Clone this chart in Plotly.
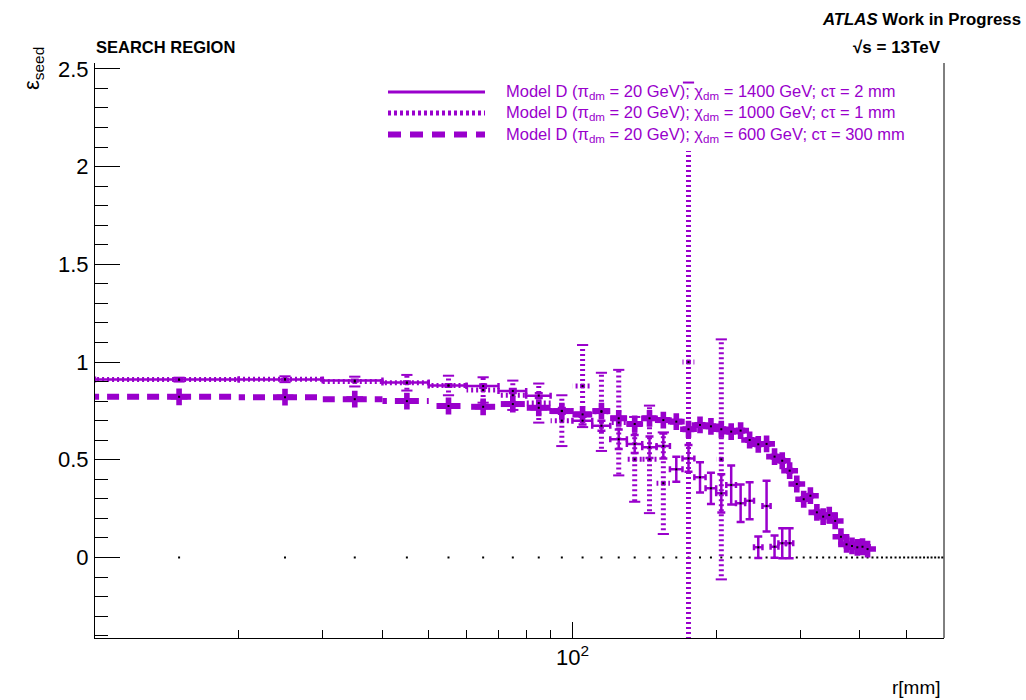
import plotly.graph_objects as go

PURPLE = "#9900cc"
FONT = "Liberation Sans, Arial, Helvetica, sans-serif"

# ---------------- data ----------------
BIN_HALF = 5  # half bin width in mm (10 mm bins)

all_bins = [15, 25, 35, 45, 55, 65, 75, 85, 95, 105, 115, 125, 135, 145, 155, 165, 175, 185, 195,
            205, 215, 225, 235, 245, 255, 265, 275, 285, 295, 305, 315, 325, 335, 345, 355, 365,
            375, 385, 395, 405, 415, 425, 435, 445, 455, 465, 475, 485, 495, 505, 515, 525, 535,
            545, 555, 565, 575, 585, 595]
empty_vals = [0.0] * len(all_bins)

# Model D, chi 600 GeV, ctau 300 mm (thick dashed)
r_T = [15, 25, 35, 45, 55, 65, 75, 85, 95, 105, 115, 125, 135, 145, 155, 165, 175, 185, 195, 205,
       215, 225, 235, 245, 255, 265, 275, 285, 295, 305, 315, 325, 335, 345, 355, 365, 375, 385,
       395, 405, 415]
eff_T = [0.822, 0.820, 0.810, 0.800, 0.775, 0.771, 0.785, 0.766, 0.749, 0.732, 0.749, 0.712, 0.683,
         0.712, 0.703, 0.695, 0.656, 0.678, 0.671, 0.656, 0.644, 0.649, 0.601, 0.579, 0.581, 0.516,
         0.495, 0.444, 0.376, 0.298, 0.316, 0.231, 0.209, 0.217, 0.187, 0.106, 0.067, 0.059, 0.052,
         0.055, 0.043]
err_T = [0.004, 0.004, 0.005, 0.005, 0.006, 0.006, 0.007, 0.007, 0.008, 0.008, 0.009, 0.009, 0.010,
         0.010, 0.010, 0.011, 0.011, 0.012, 0.012, 0.012, 0.013, 0.013, 0.013, 0.013, 0.013, 0.013,
         0.013, 0.013, 0.013, 0.013, 0.012, 0.012, 0.011, 0.011, 0.011, 0.009, 0.007, 0.006, 0.006,
         0.006, 0.006]

# Model D, chi 1400 GeV, ctau 2 mm (solid)
r_S = [15, 25, 35, 45, 55, 65, 75, 85, 95, 105, 115, 125, 135, 145, 155, 165, 175, 185, 195, 205,
       215, 225, 235, 245, 255, 265, 275, 285]
eff_S = [0.910, 0.910, 0.905, 0.895, 0.880, 0.877, 0.852, 0.828, 0.750, 0.700, 0.674, 0.605, 0.581,
         0.564, 0.570, 0.451, 0.507, 0.410, 0.354, 0.328, 0.371, 0.277, 0.290, 0.052, 0.263, 0.055,
         0.073, 0.073]
err_S = [0.003, 0.003, 0.004, 0.005, 0.006, 0.008, 0.010, 0.012, 0.015, 0.020, 0.026, 0.050, 0.046,
         0.055, 0.064, 0.064, 0.068, 0.077, 0.080, 0.098, 0.100, 0.096, 0.095, 0.055, 0.130, 0.057,
         0.077, 0.077]

# Model D, chi 1000 GeV, ctau 1 mm (dotted)
r_D = [15, 25, 35, 45, 55, 65, 75, 85, 95, 105, 115, 125, 135, 145, 155, 175, 205]
eff_D = [0.910, 0.912, 0.900, 0.894, 0.880, 0.857, 0.830, 0.790, 0.700, 0.877, 0.745, 0.690, 0.502,
         0.502, 0.380, 1.000, 0.502]
err_D = [0.010, 0.015, 0.025, 0.040, 0.050, 0.065, 0.075, 0.100, 0.130, 0.210, 0.200, 0.270, 0.217,
         0.275, 0.260, 1.430, 0.614]

legend_labels = [
    "Model D (π<sub>dm</sub> = 20 GeV); χ<sub>dm</sub> = 1400 GeV; cτ = 2 mm",
    "Model D (π<sub>dm</sub> = 20 GeV); χ<sub>dm</sub> = 1000 GeV; cτ = 1 mm",
    "Model D (π<sub>dm</sub> = 20 GeV); χ<sub>dm</sub> = 600 GeV; cτ = 300 mm",
]

x_minor = [20, 30, 40, 50, 60, 70, 80, 90, 200, 300, 400, 500]

DOT = "2px,3px"
DASH = "12px,8px"


# ---------------- helpers (error bars drawn from the centre outward, like ROOT) ----------------
def hbars(r, y):
    xs, ys = [], []
    for ri, yi in zip(r, y):
        xs += [ri, ri - BIN_HALF, None, ri, ri + BIN_HALF, None]
        ys += [yi, yi, None, yi, yi, None]
    return xs, ys


def vbars(r, y, e):
    xs, ys = [], []
    for ri, yi, ei in zip(r, y, e):
        xs += [ri, ri, None, ri, ri, None]
        ys += [yi, yi + ei, None, yi, yi - ei, None]
    return xs, ys


fig = go.Figure()

# empty bins (black dots at zero)
fig.add_trace(go.Scatter(x=all_bins, y=empty_vals, mode="markers",
                         marker=dict(symbol="square", size=2, color="black"),
                         showlegend=False, hoverinfo="skip"))

# thick dashed series
hx, hy = hbars(r_T, eff_T)
fig.add_trace(go.Scatter(x=hx, y=hy, mode="lines",
                         line=dict(color=PURPLE, width=6, dash=DASH),
                         showlegend=False, hoverinfo="skip"))
vx, vy = vbars(r_T, eff_T, err_T)
fig.add_trace(go.Scatter(x=vx, y=vy, mode="lines",
                         line=dict(color=PURPLE, width=6),
                         showlegend=False, hoverinfo="skip"))
fig.add_trace(go.Scatter(x=r_T, y=eff_T, mode="markers",
                         marker=dict(symbol="cross", size=14, color=PURPLE, line=dict(width=0)),
                         showlegend=False, hoverinfo="skip"))

# dotted series
hx, hy = hbars(r_D, eff_D)
fig.add_trace(go.Scatter(x=hx, y=hy, mode="lines",
                         line=dict(color=PURPLE, width=5, dash=DOT),
                         showlegend=False, hoverinfo="skip"))
vx, vy = vbars(r_D, eff_D, err_D)
fig.add_trace(go.Scatter(x=vx, y=vy, mode="lines",
                         line=dict(color=PURPLE, width=5, dash=DOT),
                         showlegend=False, hoverinfo="skip"))
cap_x = r_D + r_D
cap_y = [v + e for v, e in zip(eff_D, err_D)] + [v - e for v, e in zip(eff_D, err_D)]
fig.add_trace(go.Scatter(x=cap_x, y=cap_y, mode="markers",
                         marker=dict(symbol="line-ew", size=8, color=PURPLE,
                                     line=dict(color=PURPLE, width=2)),
                         showlegend=False, hoverinfo="skip"))

# solid series
fig.add_trace(go.Scatter(x=r_S, y=eff_S, mode="markers",
                         marker=dict(symbol="square", size=2, color="black"),
                         error_x=dict(type="constant", value=BIN_HALF, color=PURPLE, thickness=2.5, width=3),
                         error_y=dict(type="data", array=err_S, color=PURPLE, thickness=2.5, width=4),
                         showlegend=False, hoverinfo="skip"))

# black centre dots of the other two series
fig.add_trace(go.Scatter(x=r_T + r_D, y=eff_T + eff_D, mode="markers",
                         marker=dict(symbol="square", size=2, color="black"),
                         showlegend=False, hoverinfo="skip"))

# ---------------- layout ----------------
L, R, T, B = 95, 944, 63, 638
W, H = 1026, 700


def px(xp):
    return (xp - L) / (R - L)


def py(yp):
    return (B - yp) / (B - T)


shapes = [
    # right frame line
    dict(type="line", xref="paper", yref="paper", x0=1, x1=1, y0=0, y1=1,
         line=dict(color="black", width=1), layer="above"),
    # legend box (white)
    dict(type="rect", xref="paper", yref="paper", x0=px(382), x1=px(915), y0=py(151), y1=py(84),
         fillcolor="white", line=dict(width=0), layer="above"),
    dict(type="line", xref="paper", yref="paper", x0=px(388), x1=px(485), y0=py(92), y1=py(92),
         line=dict(color=PURPLE, width=3), layer="above"),
    dict(type="line", xref="paper", yref="paper", x0=px(388), x1=px(485), y0=py(113), y1=py(113),
         line=dict(color=PURPLE, width=5, dash="3px,3px"), layer="above"),
    dict(type="line", xref="paper", yref="paper", x0=px(388), x1=px(485), y0=py(134.5), y1=py(134.5),
         line=dict(color=PURPLE, width=6, dash="13px,9px"), layer="above"),
]

annotations = []
for lab, yy in zip(legend_labels, [92, 113, 134.5]):
    annotations.append(dict(text=lab, xref="paper", yref="paper", x=px(504), y=py(yy),
                            xanchor="left", yanchor="middle", showarrow=False,
                            font=dict(family=FONT, size=16.5, color=PURPLE)))

annotations += [
    dict(text="<b>SEARCH REGION</b>", xref="paper", yref="paper", x=px(94), y=py(47),
         xanchor="left", yanchor="middle", showarrow=False, font=dict(family=FONT, size=16.5, color="black")),
    dict(text="<b><i>ATLAS</i> Work in Progress</b>", xref="paper", yref="paper", x=px(1023), y=py(19),
         xanchor="right", yanchor="middle", showarrow=False, font=dict(family=FONT, size=16.8, color="black")),
    dict(text="<b>√s = 13TeV</b>", xref="paper", yref="paper", x=px(943), y=py(47),
         xanchor="right", yanchor="middle", showarrow=False, font=dict(family=FONT, size=17, color="black")),
    dict(text="r[mm]", xref="paper", yref="paper", x=px(943), y=py(687),
         xanchor="right", yanchor="middle", showarrow=False, font=dict(family=FONT, size=19, color="black")),
    dict(text="ε<sub>seed</sub>", xref="paper", yref="paper", x=px(33), y=py(68),
         xanchor="center", yanchor="middle", textangle=-90, showarrow=False,
         font=dict(family=FONT, size=22, color="black")),
]

fig.update_layout(
    width=W, height=H,
    margin=dict(l=L, r=W - R, t=T, b=H - B, pad=0),
    paper_bgcolor="white", plot_bgcolor="white",
    showlegend=False,
    shapes=shapes, annotations=annotations,
    font=dict(family=FONT, color="black"),
    xaxis=dict(type="log", range=[1, 2.778151], showgrid=False, zeroline=False,
               showline=True, linecolor="black", linewidth=1, mirror=False,
               ticks="inside", ticklen=16, tickcolor="black", tickwidth=1,
               tickmode="array", tickvals=[100], ticktext=["10<sup>2</sup>"],
               tickfont=dict(family=FONT, size=22, color="black"),
               minor=dict(tickmode="array", tickvals=x_minor, ticks="inside", ticklen=8,
                          tickcolor="black", tickwidth=1, showgrid=False)),
    yaxis=dict(range=[-0.412, 2.53], showgrid=False, zeroline=False,
               showline=True, linecolor="black", linewidth=1, mirror=False,
               ticks="inside", ticklen=25, tickcolor="black", tickwidth=1,
               tickmode="linear", tick0=0, dtick=0.5,
               tickfont=dict(family=FONT, size=22, color="black"), ticklabelstandoff=1,
               minor=dict(dtick=0.1, ticks="inside", ticklen=13, tickcolor="black",
                          tickwidth=1, showgrid=False)),
)

fig.write_html("out.html")
